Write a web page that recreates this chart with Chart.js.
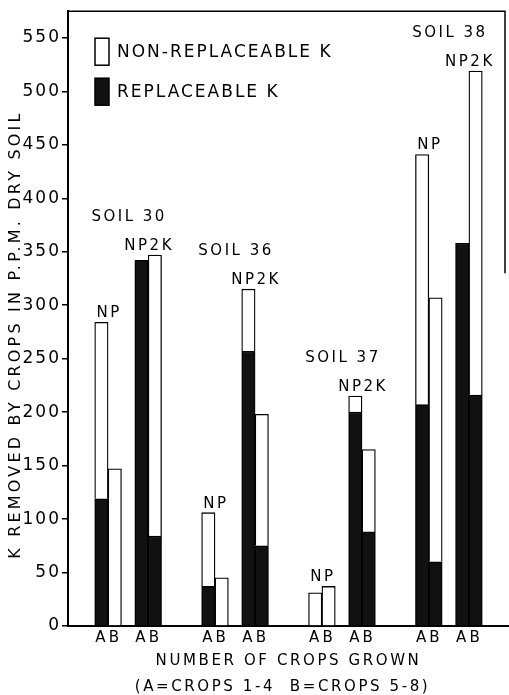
<!DOCTYPE html>
<html>
<head>
<meta charset="utf-8">
<script src="https://cdn.jsdelivr.net/npm/chart.js@4"></script>
<style>
  body { margin: 0; background: #fff; }
</style>
</head>
<body>
<canvas id="chartK" width="509" height="695"></canvas>
<script>
// K removed (p.p.m. dry soil), bar order per soil: NP-A, NP-B, NP2K-A, NP2K-B
const soils = ['SOIL 30', 'SOIL 36', 'SOIL 37', 'SOIL 38'];
const treatments = ['NP', 'NP2K'];
const crops = ['A', 'B'];
const replaceableK = [119, 0, 342, 84, 37, 0, 257, 75, 0, 0, 200, 88, 207, 60, 358, 216];
const nonReplaceableK = [165, 147, 0, 263, 69, 45, 58, 123, 31, 37, 15, 77, 234, 247, 0, 303];
const yTicks = [0, 50, 100, 150, 200, 250, 300, 350, 400, 450, 500, 550];

const FONT = '"DejaVu Sans", sans-serif';

// lay the bars out on a category axis with empty slots between pairs and soils
const labels = [], rep = [], non = [], pairs = [];
const gap = n => { for (let i = 0; i < n; i++) { labels.push(''); rep.push(null); non.push(null); } };
gap(2);
soils.forEach((soil, si) => {
  if (si > 0) gap(3);
  treatments.forEach((t, ti) => {
    if (ti > 0) gap(1);
    const idx = [];
    crops.forEach((c, ci) => {
      const k = si * 4 + ti * 2 + ci;
      idx.push(labels.length);
      labels.push(c);
      rep.push(replaceableK[k]);
      non.push(nonReplaceableK[k]);
    });
    pairs.push({ soil: si, label: t, idx });
  });
});
gap(2);

const total = i => (rep[i] || 0) + (non[i] || 0);

const textPlugin = {
  id: 'textPlugin',
  beforeDraw(chart) {
    chart.ctx.letterSpacing = '2px';
  },
  afterDraw(chart) {
    const { ctx, chartArea: ca } = chart;
    const x = chart.scales.x, y = chart.scales.y;
    ctx.save();
    ctx.fillStyle = '#000';
    ctx.strokeStyle = '#000';

    // frame (top + upper right edge)
    ctx.lineWidth = 1.5;
    ctx.beginPath();
    ctx.moveTo(ca.left, ca.top);
    ctx.lineTo(ca.right - 4, ca.top);
    ctx.lineTo(ca.right - 4, y.getPixelForValue(330));
    ctx.stroke();

    // treatment labels above each A/B pair
    ctx.font = '15px ' + FONT;
    ctx.letterSpacing = '2.5px';
    ctx.textAlign = 'center';
    ctx.textBaseline = 'alphabetic';
    const soilTop = {};
    pairs.forEach(p => {
      const cx = (x.getPixelForValue(p.idx[0]) + x.getPixelForValue(p.idx[1])) / 2;
      const top = Math.min(...p.idx.map(i => y.getPixelForValue(total(i))));
      ctx.fillText(p.label, cx + 1, top - 5);
      const s = soilTop[p.soil] || { top: Infinity, xs: [] };
      s.top = Math.min(s.top, top);
      s.xs.push(cx);
      soilTop[p.soil] = s;
    });
    // soil labels above each group
    soils.forEach((name, si) => {
      const s = soilTop[si];
      const cx = (s.xs[0] + s.xs[s.xs.length - 1]) / 2;
      ctx.fillText(name, cx + 1, s.top - 34);
    });

    // legend (inside plot, top left)
    const items = chart.data.datasets.slice().reverse();
    ctx.font = '17px ' + FONT;
    ctx.letterSpacing = '2px';
    ctx.textAlign = 'left';
    ctx.textBaseline = 'middle';
    items.forEach((ds, i) => {
      const bx = ca.left + 27, by = ca.top + 27 + i * 40;
      ctx.fillStyle = ds.backgroundColor;
      ctx.fillRect(bx, by, 14, 27);
      ctx.lineWidth = 1.5;
      ctx.strokeRect(bx, by, 14, 27);
      ctx.fillStyle = '#000';
      ctx.fillText(ds.label, bx + 22, by + 14);
    });

    // axis titles
    ctx.font = '15px ' + FONT;
    ctx.letterSpacing = '2.6px';
    ctx.textAlign = 'center';
    const mid = (ca.left + ca.right) / 2 - 4;
    ctx.fillText('NUMBER OF CROPS GROWN', mid + 4, 661);
    ctx.fillText('(A=CROPS 1-4  B=CROPS 5-8)', mid - 2, 687);

    ctx.translate(16, (ca.top + ca.bottom) / 2 + 16);
    ctx.rotate(-Math.PI / 2);
    ctx.font = '16px ' + FONT;
    ctx.letterSpacing = '3.2px';
    ctx.fillText('K REMOVED BY CROPS IN P.P.M. DRY SOIL', 0, 0);
    ctx.restore();
    ctx.letterSpacing = '0px';
  }
};

new Chart(document.getElementById('chartK'), {
  type: 'bar',
  data: {
    labels,
    datasets: [
      { label: 'REPLACEABLE K', data: rep, backgroundColor: '#111', borderColor: '#000', borderWidth: 1.3 },
      { label: 'NON-REPLACEABLE K', data: non, backgroundColor: '#fff', borderColor: '#000', borderWidth: 1.3 }
    ]
  },
  options: {
    responsive: false,
    animation: false,
    layout: { padding: { top: 10, right: 0, left: 0, bottom: 0 } },
    datasets: { bar: { categoryPercentage: 1, barPercentage: 1 } },
    plugins: { legend: { display: false }, tooltip: { enabled: false } },
    scales: {
      x: {
        stacked: true,
        grid: { display: false, drawTicks: false },
        border: { display: true, color: '#000', width: 2 },
        ticks: {
          color: '#000', autoSkip: false, maxRotation: 0, padding: 3,
          font: { family: FONT, size: 15 }
        },
        afterFit: s => { s.height = 69; }
      },
      y: {
        stacked: true,
        min: 0,
        max: 575,
        grid: { display: true, drawOnChartArea: false, drawTicks: true, tickLength: 6, color: '#000', lineWidth: 1.5 },
        border: { display: true, color: '#000', width: 2 },
        ticks: {
          color: '#000', stepSize: 50, padding: 1,
          font: { family: FONT, size: 17 }
        },
        afterBuildTicks: s => { s.ticks = yTicks.map(v => ({ value: v })); },
        afterFit: s => { s.width = 68; }
      }
    }
  },
  plugins: [textPlugin]
});
</script>
</body>
</html>
